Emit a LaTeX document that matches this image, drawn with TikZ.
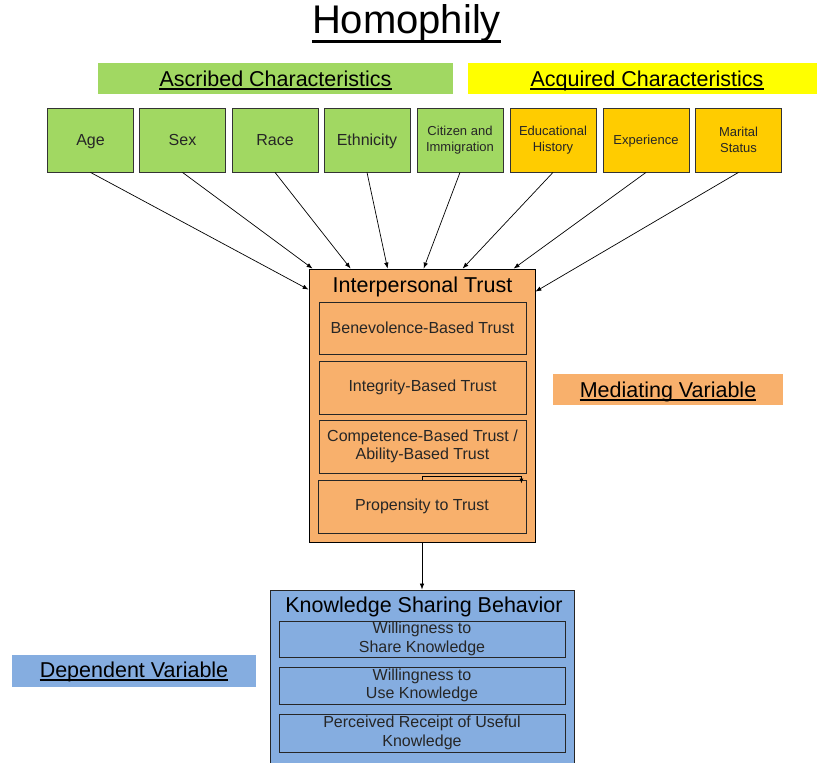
\documentclass[tikz,border=0pt]{standalone}
\usepackage{fontspec}
\setmainfont{Liberation Sans}
\usetikzlibrary{arrows.meta}
\definecolor{grn}{RGB}{161,216,98}
\definecolor{gold}{RGB}{255,204,0}
\definecolor{yel}{RGB}{255,255,0}
\definecolor{orng}{RGB}{248,176,108}
\definecolor{blu}{RGB}{133,173,224}
\begin{document}
\begin{tikzpicture}[x=1pt,y=-1pt,
  every node/.style={inner sep=0pt},
  hdr/.style={anchor=base, font=\fontsize{21.5}{24}\selectfont},
  band/.style={minimum height=31pt},
  topbox/.style={draw=black!80, line width=0.8pt, minimum width=86pt, minimum height=64pt,
    align=center, text=black!85, font=\fontsize{16}{18}\selectfont},
  oneline/.style={text height=11.5pt, text depth=0pt},
  smalltxt/.style={font=\fontsize{13}{16}\selectfont},
  inbox/.style={draw=black!85, line width=0.9pt, align=center, text=black!85,
    font=\fontsize{16}{18.5}\selectfont},
  arr/.style={line width=0.7pt, -{Latex[length=6pt,width=4.5pt]}},
  uline/.style={line width=2pt}
]
\useasboundingbox (0,0) rectangle (817,763);
\clip (0,0) rectangle (817,763);

% title
\node[anchor=base, font=\fontsize{40}{44}\selectfont] (title) at (406.5,33.5) {Homophily};
\draw[line width=3pt] ([yshift=-8pt]title.base west) -- ([yshift=-8pt]title.base east);

% characteristic bands
\node[band, fill=grn, minimum width=355pt] (ascband) at (275.5,78.5) {};
\node[hdr] (asc) at (275.5,86) {Ascribed Characteristics};
\draw[uline] ([yshift=-3pt]asc.base west) -- ([yshift=-3pt]asc.base east);
\node[band, fill=yel, minimum width=349pt] (acqband) at (642.5,78.5) {};
\node[hdr] (acq) at (647,86) {Acquired Characteristics};
\draw[uline] ([yshift=-3pt]acq.base west) -- ([yshift=-3pt]acq.base east);

% characteristic boxes
\node[topbox, oneline, fill=grn] (age) at (90.5,140) {Age};
\node[topbox, oneline, fill=grn] (sex) at (182.5,140) {Sex};
\node[topbox, oneline, fill=grn] (race) at (275,140) {Race};
\node[topbox, oneline, fill=grn] (eth) at (367,140) {Ethnicity};
\node[topbox, fill=grn, smalltxt] (cit) at (460,140) {Citizen and\\Immigration};
\node[topbox, fill=gold, smalltxt] (edu) at (553,140) {Educational\\History};
\node[topbox, fill=gold, smalltxt, text height=9.5pt, text depth=0pt] (exper) at (646,140) {Experience};
\node[topbox, fill=gold, smalltxt] (mar) at (738.5,140) {Marital\\Status};

% interpersonal trust
\node[draw=black, line width=0.8pt, fill=orng, minimum width=226pt, minimum height=273pt] (trust) at (422,405.5) {};
\node[hdr] (trusttitle) at (422.5,292) {Interpersonal Trust};
\node[inbox, minimum width=207pt, minimum height=52pt] (ben) at (422.5,328) {Benevolence-Based Trust};
\node[inbox, minimum width=207pt, minimum height=53pt] (integ) at (422.5,387.5) {Integrity-Based Trust};
\node[inbox, minimum width=207pt, minimum height=53pt] (comp) at (422.5,446.5) {Competence-Based Trust /\\Ability-Based Trust};
\node[inbox, minimum width=208pt, minimum height=53pt] (prop) at (422,506.5) {Propensity to Trust};
\draw[line width=0.8pt, -{Latex[length=5pt,width=4pt]}] (prop.north) -- ++(0,-3) -| ([xshift=-5pt,yshift=-4pt]prop.north east);

% mediating variable label
\node[fill=orng, minimum width=230pt, minimum height=31pt] (medband) at (668,389.5) {};
\node[hdr] (med) at (668,397) {Mediating Variable};
\draw[uline] ([yshift=-3pt]med.base west) -- ([yshift=-3pt]med.base east);

% knowledge sharing behavior
\node[draw=black!85, line width=0.8pt, fill=blu, minimum width=304pt, minimum height=210pt] (ksb) at (422,695) {};
\node[hdr] (ksbtitle) at (424,612) {Knowledge Sharing Behavior};
\node[inbox, minimum width=286pt, minimum height=36pt] (share) at (422,639) {Willingness to\\Share Knowledge};
\node[inbox, minimum width=286pt, minimum height=37pt] (use) at (422,685.5) {Willingness to\\Use Knowledge};
\node[inbox, minimum width=286pt, minimum height=38pt] (recv) at (422,733) {Perceived Receipt of Useful\\Knowledge};

% dependent variable label
\node[fill=blu, minimum width=244pt, minimum height=32pt] (depband) at (134,671) {};
\node[hdr] (dep) at (134,677) {Dependent Variable};
\draw[uline] ([yshift=-3pt]dep.base west) -- ([yshift=-3pt]dep.base east);

% connectors
\draw[arr] (age.south) -- ([yshift=-21pt]trust.north west);
\draw[arr] (sex.south) -- ([xshift=4pt]trust.north west);
\draw[arr] (race.south) -- ([xshift=42pt]trust.north west);
\draw[arr] (eth.south) -- ([xshift=79pt]trust.north west);
\draw[arr] (cit.south) -- ([xshift=115pt]trust.north west);
\draw[arr] (edu.south) -- ([xshift=154pt]trust.north west);
\draw[arr] (exper.south) -- ([xshift=205pt]trust.north west);
\draw[arr] (mar.south) -- ([yshift=-23pt]trust.north east);
\draw[arr] (trust.south) -- (ksb.north);
\end{tikzpicture}
\end{document}
